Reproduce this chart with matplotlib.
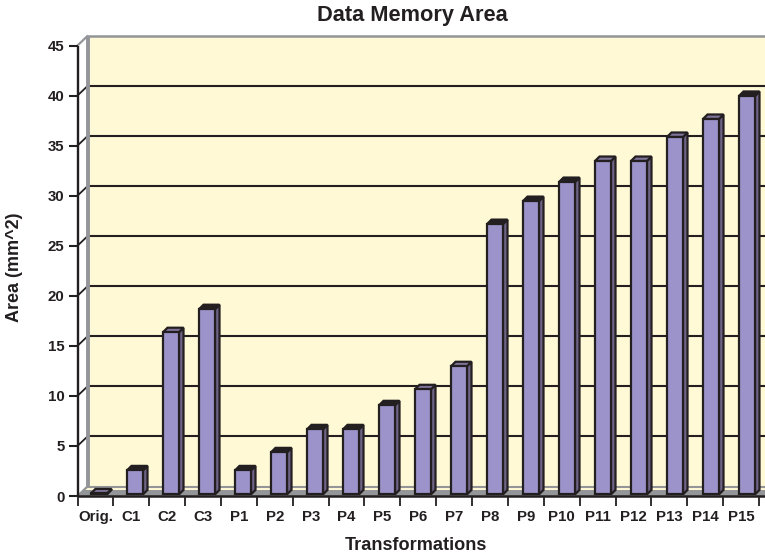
#!/usr/bin/env python3
import matplotlib
matplotlib.use("Agg")
import matplotlib.pyplot as plt
from matplotlib.patches import Polygon

plt.rcParams['font.family'] = ['Liberation Sans', 'DejaVu Sans']
plt.rcParams['font.weight'] = 'bold'

## DATA
categories = ['Orig.', 'C1', 'C2', 'C3', 'P1', 'P2', 'P3', 'P4', 'P5', 'P6',
              'P7', 'P8', 'P9', 'P10', 'P11', 'P12', 'P13', 'P14', 'P15']
area = [0.1, 2.4, 16.2, 18.5, 2.4, 4.2, 6.5, 6.5, 8.9, 10.5,
        12.8, 27.0, 29.3, 31.2, 33.3, 33.3, 35.7, 37.5, 39.8]
y_ticks = [0, 5, 10, 15, 20, 25, 30, 35, 40, 45]

# these bars have their thin top face filled in by the outline
dark_tops = ['C1', 'C3', 'P1', 'P2', 'P3', 'P4', 'P5', 'P8', 'P9', 'P10', 'P15']

BLACK = '#231f20'
GREY = '#939598'
WALL = '#fff9d6'
FRONT = '#9b93c9'
SIDE = '#6f6488'
TOP = '#7f7399'

W, H = 765, 556
fig = plt.figure(figsize=(W / 100, H / 100), dpi=100)
x0, x1, y0, y45 = 77.5, 759.0, 496.0, 45.5
ax = fig.add_axes([x0 / W, 1 - y0 / H, (x1 - x0) / W, (y0 - y45) / H])
ax.set_xlim(0, len(categories))
ax.set_ylim(0, 45)
ax.axis('off')

px = len(categories) / (x1 - x0)      # data units per pixel, x
py = 45 / (y0 - y45)                  # data units per pixel, y
dx, dy = 10.5 * px, 10 * py           # depth of the box
xr = (W + 2 - x0) * px                # walls run off the right side


def poly(points, color, z, ec='none', lw=0):
    ax.add_patch(Polygon(points, closed=True, fc=color, ec=ec, lw=lw,
                         zorder=z, clip_on=False, joinstyle='miter'))


def line(xs, ys, color=BLACK, lw=1.5, z=3):
    ax.plot(xs, ys, color=color, lw=lw, zorder=z, clip_on=False,
            solid_capstyle='butt')


## back wall and floor
poly([(dx, dy), (xr, dy), (xr, 45 + dy), (dx, 45 + dy)], WALL, 1)
poly([(0, 0), (xr, 0), (xr, 6 * py), (dx * 0.6, 6 * py)], GREY, 2)
poly([(dx * 0.6, 6 * py), (xr, 6 * py), (xr, 9 * py), (dx * 0.9, 9 * py)], WALL, 2)
line([dx * 0.9, xr], [dy - 0.5 * py, dy - 0.5 * py], GREY, 1.5, 2)

## gridlines
for v in y_ticks[1:-1]:
    line([dx, xr], [v + dy, v + dy], BLACK, 1.5, 3)
    line([0, dx], [v, v + dy], BLACK, 1.3, 3)

## grey frame of the wall
line([dx, dx], [dy * 0.9, 45 + dy], GREY, 2.8, 4)
line([dx - 1.5 * px, xr], [45 + dy, 45 + dy], GREY, 1.8, 4)
line([0, dx], [45, 45 + dy], GREY, 1.6, 4)
line([0, dx], [0, dy], GREY, 1.6, 2)

## bars
bar_w = 16 * px
bar_dx, bar_dy = 4.5 * px, 4.5 * py
base = 1.6 * py
for i, v in enumerate(area):
    xl = (91.0 + 36.0 * i - x0) * px
    xh = xl + bar_w
    top = v + base
    top_color = BLACK if categories[i] in dark_tops else TOP
    poly([(xh, base), (xh + bar_dx, base + bar_dy), (xh + bar_dx, top + bar_dy), (xh, top)],
         SIDE, 5, BLACK, 1.6)
    poly([(xl, top), (xh, top), (xh + bar_dx, top + bar_dy), (xl + bar_dx, top + bar_dy)],
         top_color, 5, BLACK, 1.6)
    poly([(xl, base), (xh, base), (xh, top), (xl, top)], FRONT, 6, BLACK, 1.6)

## axes
line([0, 0], [-0.05, 45], BLACK, 1.7, 7)
line([0, xr], [0, 0], BLACK, 1.8, 7)

for v in y_ticks:
    line([-9 * px, 0], [v, v], BLACK, 1.5, 7)
    ax.text(-13 * px, v, str(v), ha='right', va='center_baseline', fontsize=10.8,
            color=BLACK, clip_on=False)

for i, name in enumerate(categories):
    line([i, i], [0, -10 * py], BLACK, 1.3, 7)
    ax.text(i + 0.5, -25 * py, name, ha='center', va='baseline', fontsize=10.8,
            color=BLACK, clip_on=False)
line([19, 19], [0, -10 * py], BLACK, 1.3, 7)

## titles
fig.text(412.5 / W, 1 - 20.7 / H, 'Data Memory Area', ha='center', va='baseline',
         fontsize=15.7, color=BLACK)
fig.text(415.5 / W, 1 - 550 / H, 'Transformations', ha='center', va='baseline',
         fontsize=13.1, color=BLACK)
fig.text(14.5 / W, 1 - 267 / H, 'Area (mm^2)', ha='center', va='center',
         rotation=90, fontsize=13, color=BLACK)

fig.savefig('out.png', dpi=100, facecolor='white')
